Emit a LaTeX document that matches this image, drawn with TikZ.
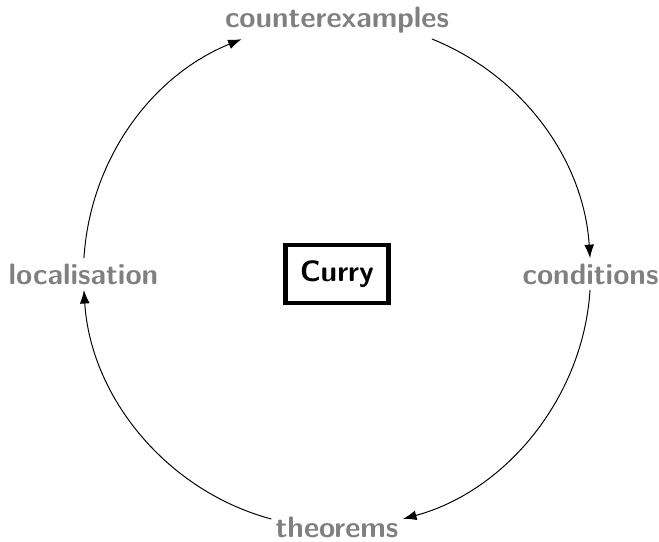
\documentclass[tikz,border=0pt]{standalone}
\usetikzlibrary{arrows.meta}
\newcommand{\ringr}{3.63}

\begin{document}
\begin{tikzpicture}[>={Latex[length=5.5pt,width=4pt]},
	stage/.style = {text=gray, font=\sffamily\bfseries\large},
	core/.style  = {draw, line width=1.8pt, font=\sffamily\bfseries\large, inner xsep=6pt, inner ysep=6.3pt}]
\useasboundingbox (-1.329*\ringr, -1.053*\ringr) rectangle (1.270*\ringr, 1.081*\ringr);

\node [core] (curry) at (0,0) {Curry};
\node [stage] (counterexamples) at (90:\ringr)  {counterexamples};
\node [stage] (conditions)      at (0:\ringr)   {conditions};
\node [stage] (theorems)        at (-90:\ringr) {theorems};
\node [stage] (localisation)    at (180:\ringr) {localisation};

% arcs of the cycle, clockwise
\foreach \src/\a/\dst/\b in {counterexamples/68/conditions/3.6,
                             conditions/-3.6/theorems/-74.9,
                             theorems/-105/localisation/-176.4,
                             localisation/176.4/counterexamples/112.1}
	{\pgfmathsetmacro{\bend}{(\a - \b)/2}
	 \coordinate (\src-out) at (\a:\ringr);
	 \coordinate (\dst-in)  at (\b:\ringr);
	 \draw [->] (\src-out) to [bend left=\bend, looseness=0.93] (\dst-in);}
\end{tikzpicture}
\end{document}
